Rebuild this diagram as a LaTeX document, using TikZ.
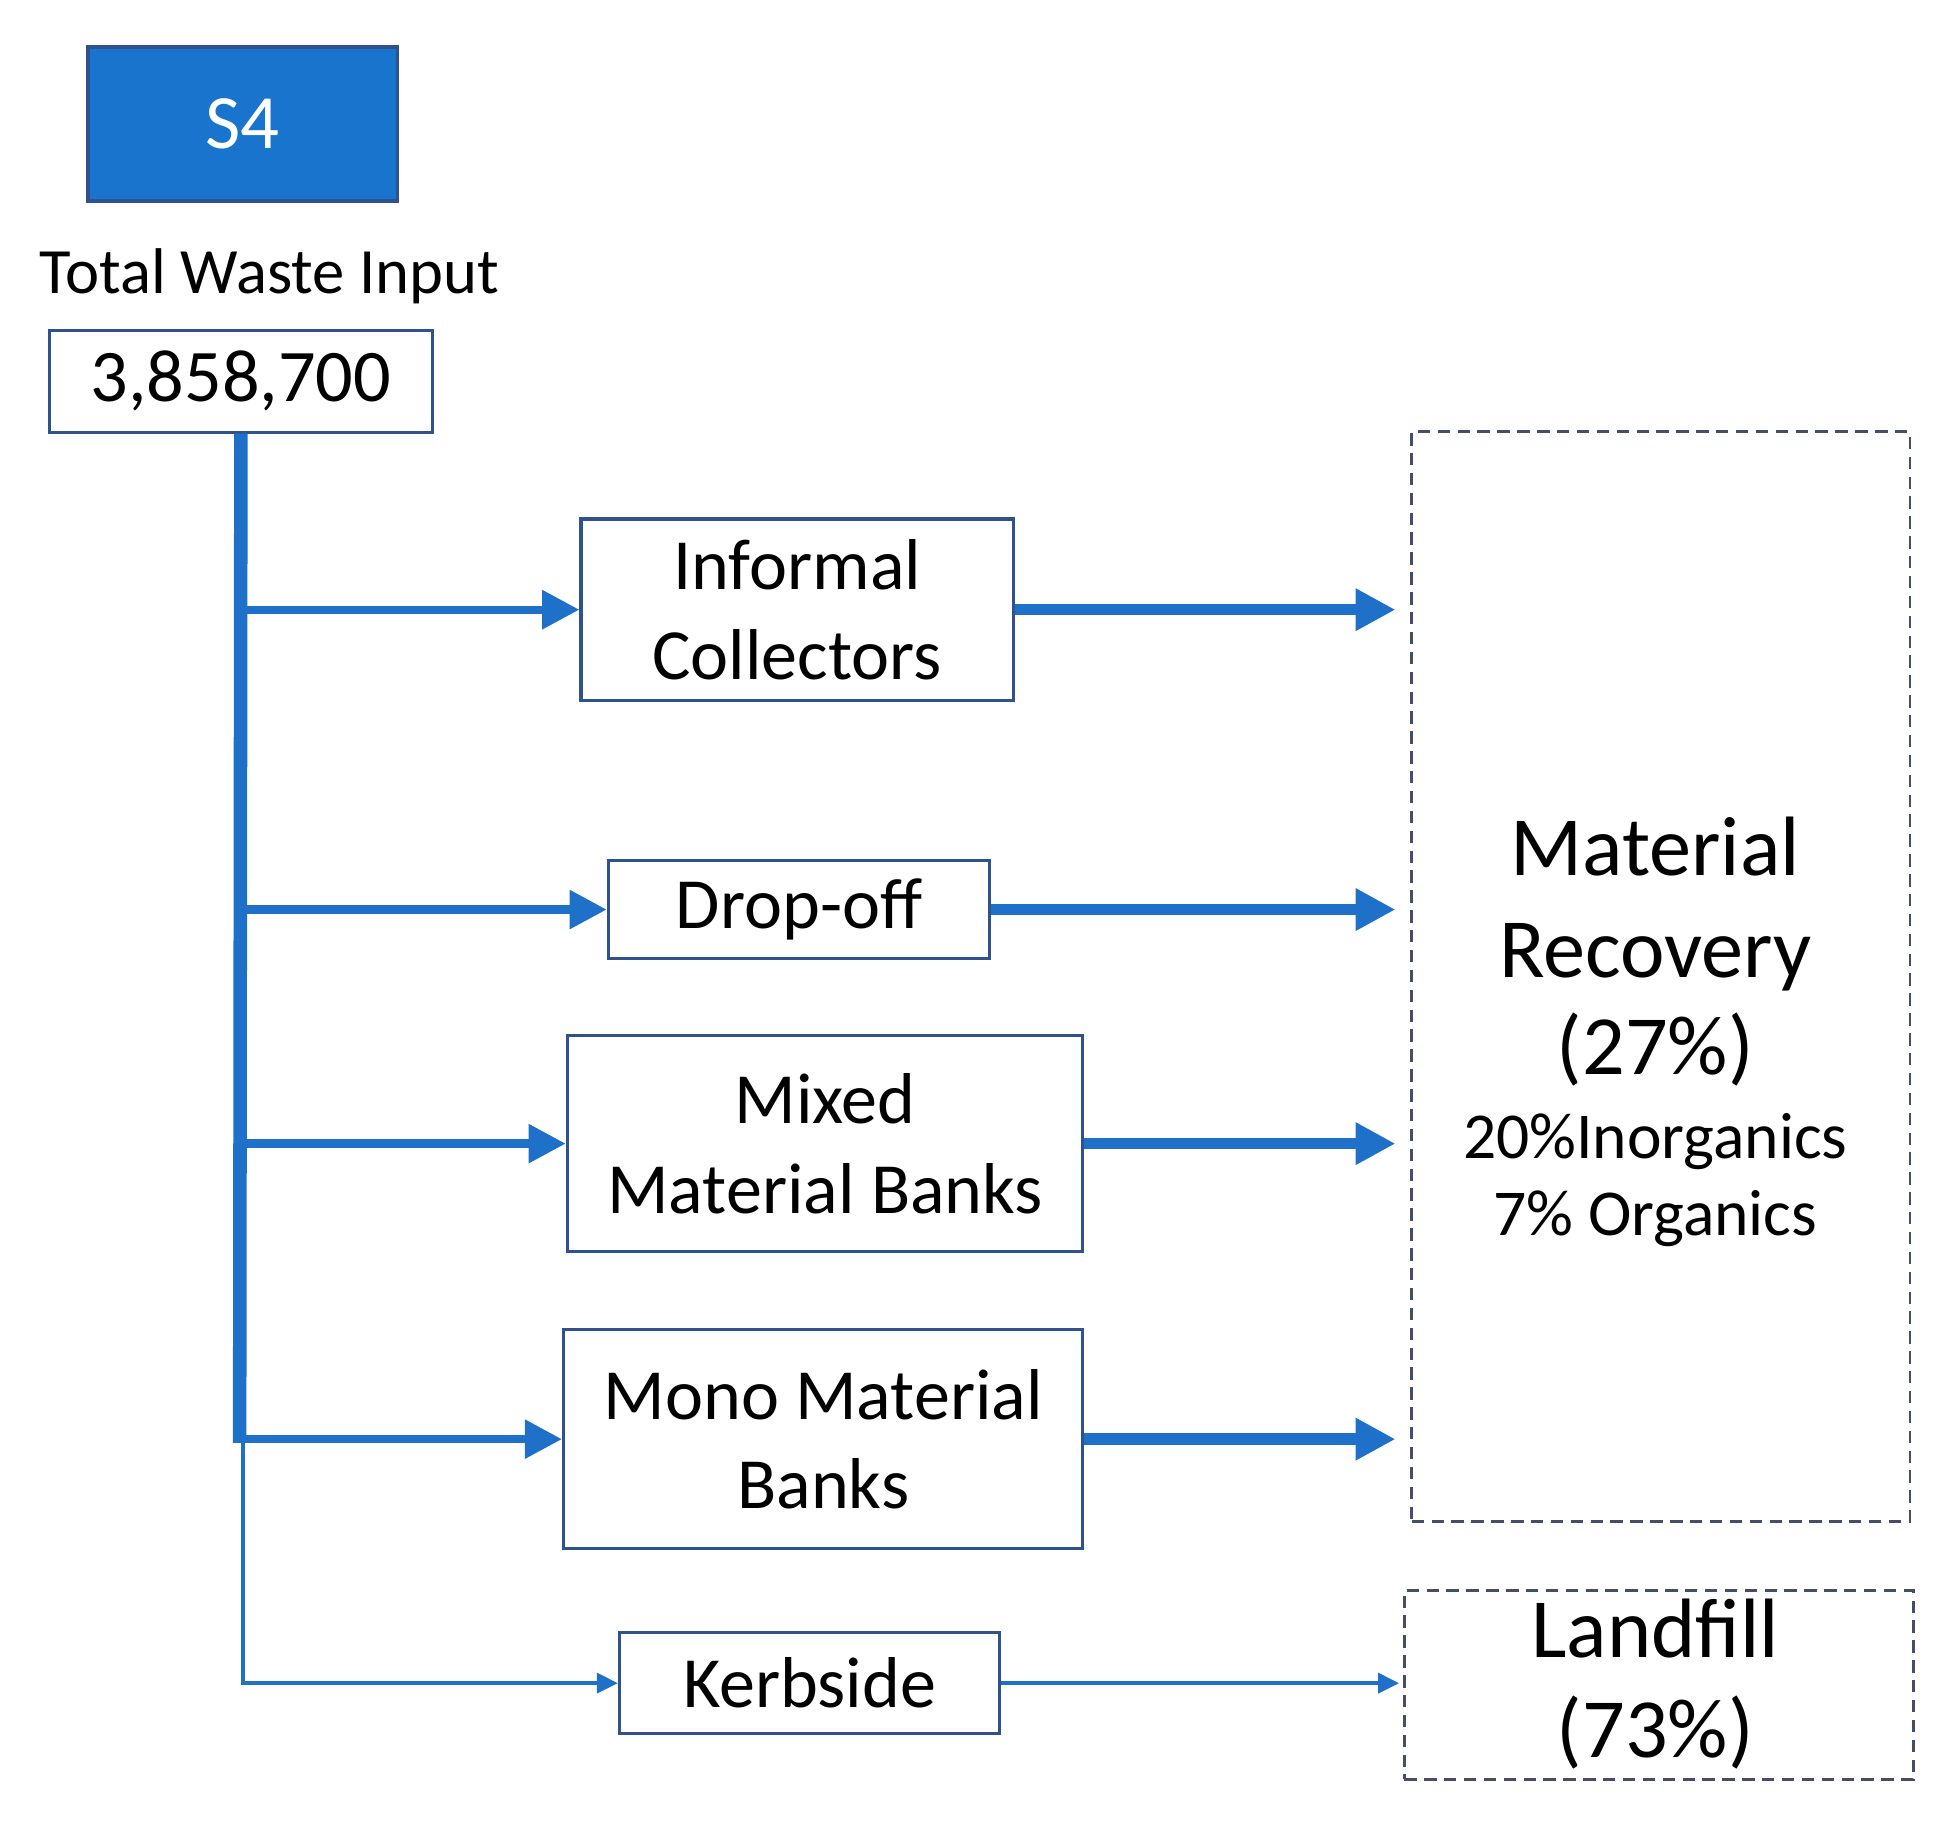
\documentclass[tikz,border=0pt]{standalone}
\usepackage{fontspec}
\setmainfont{Carlito}
\usetikzlibrary{arrows.meta}
\definecolor{sfour}{RGB}{24,116,205}
\definecolor{boxc}{RGB}{47,82,143}
\definecolor{arr}{RGB}{30,112,200}
\definecolor{dashc}{RGB}{68,78,106}
\newcommand{\fs}[2]{\fontsize{#1pt}{#2pt}\selectfont}
\begin{document}
\begin{tikzpicture}[x=0.01cm,y=-0.01cm,
  boxst/.style={draw=boxc, line width=0.7pt, fill=white, inner sep=0pt, align=center, font=\fs{16.5}{20.5}},
  dbox/.style={draw=dashc, line width=0.6pt, dash pattern=on 0.1cm off 0.06cm, inner sep=0pt},
  big/.style={font=\fs{19.3}{22.8}, anchor=base, inner sep=0pt},
  small/.style={font=\fs{15}{17.6}, anchor=base, inner sep=0pt},
  lbr/.style={draw=arr, line width=1.9pt, -{Triangle[length=0.3cm,width=0.3cm]}},
  rbr/.style={draw=arr, line width=2.6pt, -{Triangle[length=0.32cm,width=0.32cm]}, shorten >=0.12cm},
  thinarr/.style={draw=arr, line width=0.9pt, -{Triangle[length=0.17cm,width=0.16cm]}}
]
\useasboundingbox (0,0) rectangle (1568,1469);
\fill[white] (0,0) rectangle (1568,1469);

% header
\node[draw=boxc, line width=0.8pt, fill=sfour, minimum width=2.49cm, minimum height=1.24cm, inner sep=0pt,
      text=white, font=\fs{17.6}{20}] (s4) at (195.5,100) {S4};
\node[font=\fs{14.8}{17}, anchor=base, inner sep=0pt] (twi) at (217,236) {Total Waste Input};
\node[boxst, font=\fs{17}{20}, minimum width=3.08cm, minimum height=0.82cm] (tot) at (194,307) {3,858,700};

% middle boxes
\node[boxst, minimum width=3.48cm, minimum height=1.46cm] (inf) at (642,491) {Informal\\Collectors};
\node[boxst, minimum width=3.07cm, minimum height=0.79cm] (drop) at (643.5,732.5) {Drop-off};
\node[boxst, minimum width=4.15cm, minimum height=1.74cm] (mix) at (664.5,921) {Mixed\\Material Banks};
\node[boxst, minimum width=4.18cm, minimum height=1.76cm] (mono) at (663,1159) {Mono Material\\Banks};
\node[boxst, minimum width=3.06cm, minimum height=0.81cm] (kerb) at (652,1355.5) {Kerbside};

% right boxes
\node[dbox, minimum width=4.01cm, minimum height=8.77cm] (mr) at (1337.5,786.5) {};
\node[dbox, minimum width=4.10cm, minimum height=1.52cm] (lf) at (1336,1357) {};
\node[big] (mr1) at (1333,705) {Material};
\node[big] (mr2) at (1333,787) {Recovery};
\node[big] (mr3) at (1333,865) {(27\%)};
\node[small] (mr4) at (1333,933) {20\%Inorganics};
\node[small] (mr5) at (1333,995) {7\% Organics};
\node[big] (lf1) at (1333,1335) {Landfill};
\node[big] (lf2) at (1333,1415) {(73\%)};

% trunk
\coordinate (tb) at (193,1162);
\coordinate (tt) at (196,1162);
\draw[arr, line width=3.1pt] (tot.south) -- (tb);
\draw[arr, line width=0.9pt] (tt) |- ([xshift=-0.04cm]kerb.west);
\draw[thinarr] ([xshift=-0.3cm]kerb.west) -- (kerb.west);

% left branches
\draw[lbr] (tot.south |- inf.west) -- (inf.west);
\draw[lbr] (tot.south |- drop.west) -- (drop.west);
\draw[lbr] (tot.south |- mix.west) -- (mix.west);
\draw[lbr] (tot.south |- mono.west) -- (mono.west);

% right branches
\draw[rbr] (inf.east) -- (inf.east -| mr.west);
\draw[rbr] (drop.east) -- (drop.east -| mr.west);
\draw[rbr] (mix.east) -- (mix.east -| mr.west);
\draw[rbr] (mono.east) -- (mono.east -| mr.west);
\draw[thinarr, shorten >=0.03cm] (kerb.east) -- (kerb.east -| lf.west);
\end{tikzpicture}
\end{document}
